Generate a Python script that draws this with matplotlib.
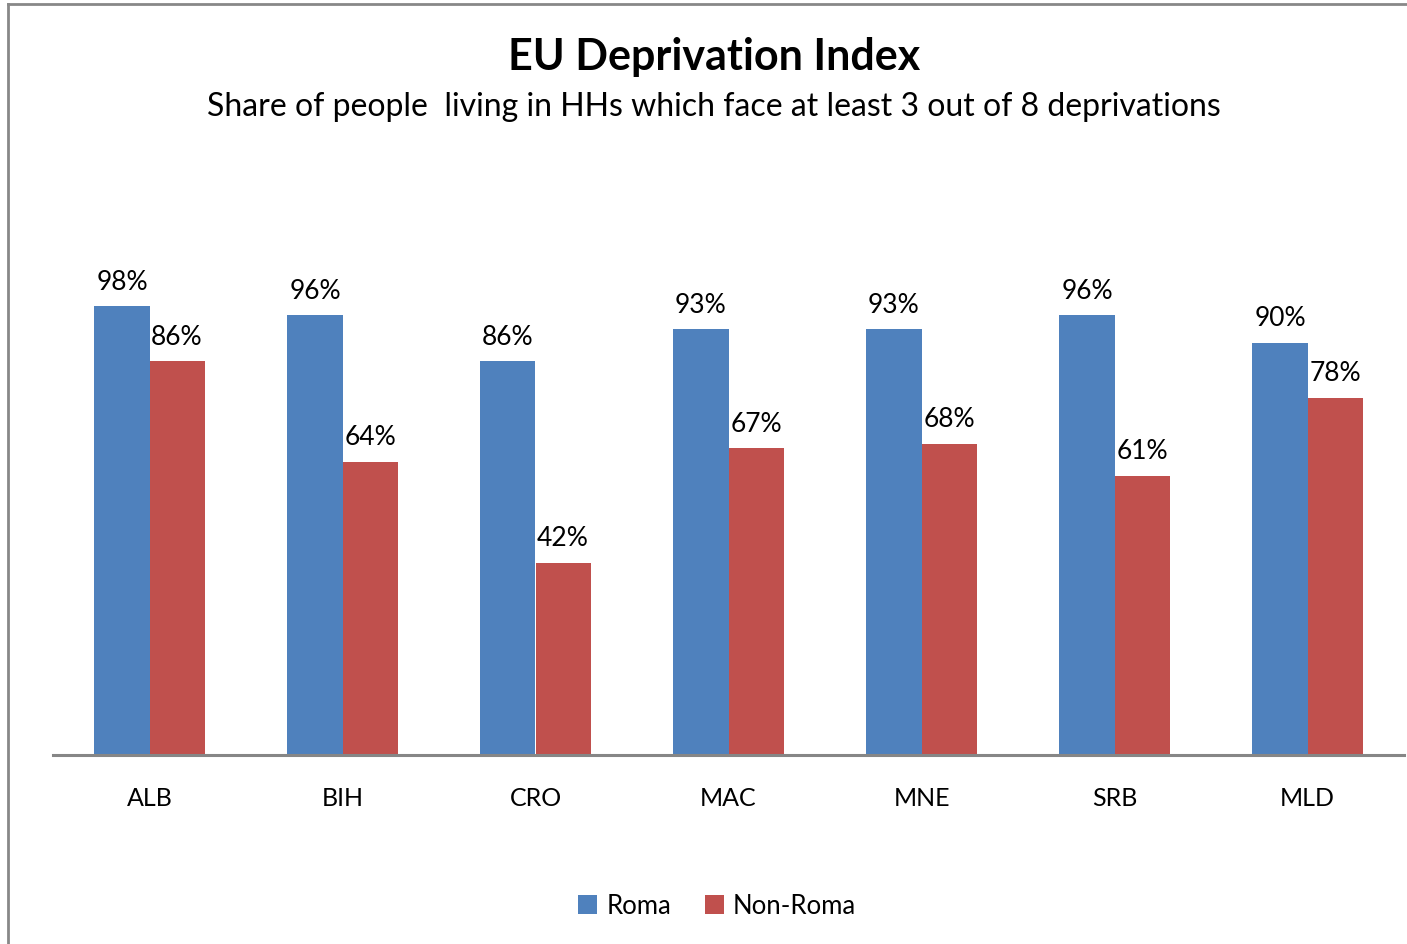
import matplotlib
matplotlib.use("Agg")
import matplotlib.pyplot as plt
from matplotlib.patches import Patch
import numpy as np

categories = ["ALB", "BIH", "CRO", "MAC", "MNE", "SRB", "MLD"]
roma = [98, 96, 86, 93, 93, 96, 90]
non_roma = [86, 64, 42, 67, 68, 61, 78]
series_names = ["Roma", "Non-Roma"]
title = "EU Deprivation Index"
subtitle = "Share of people  living in HHs which face at least 3 out of 8 deprivations"

blue = "#4F81BD"
red = "#C0504D"
font = ["Lato", "DejaVu Sans"]
plt.rcParams["font.family"] = font

fig = plt.figure(figsize=(14.07, 9.45), dpi=100)
W, H = 1407, 945
ax = fig.add_axes([53 / W, 1 - 756 / H, (1404 - 53) / W, (756 - 298) / H])

x = np.arange(len(categories))
bw = 0.285
b1 = ax.bar(x - bw / 2, roma, bw, color=blue, zorder=2)
b2 = ax.bar(x + bw / 2, non_roma, bw, color=red, zorder=2)

for bars, vals in ((b1, roma), (b2, non_roma)):
    for rect, v in zip(bars, vals):
        ax.annotate(f"{v}%", (rect.get_x() + rect.get_width() / 2, rect.get_height()),
                    xytext=(0, 18), textcoords="offset points", ha="center", va="center",
                    fontsize=19, color="black")

ax.set_xlim(-0.5, len(categories) - 0.5)
ax.set_ylim(0, 100)
ax.set_yticks([])
ax.set_xticks(x)
ax.set_xticklabels(categories, fontsize=18)
ax.tick_params(axis="x", length=0, pad=22)
for s in ("top", "right", "left"):
    ax.spines[s].set_visible(False)
ax.spines["bottom"].set_color("#868686")
ax.spines["bottom"].set_linewidth(2.2)

fig.text(714 / W, 1 - 57 / H, title, ha="center", va="center", fontsize=31, fontweight="bold")
fig.text(714 / W, 1 - 107 / H, subtitle, ha="center", va="center", fontsize=23)

handles = [Patch(facecolor=blue, label=series_names[0]), Patch(facecolor=red, label=series_names[1])]
fig.legend(handles=handles, loc="center", bbox_to_anchor=(717 / W, 1 - 907 / H), ncol=2,
           frameon=False, fontsize=18.5, handlelength=0.75, handleheight=0.75,
           handletextpad=0.35, columnspacing=1.3)

# outer border (left and top visible)
fig.add_artist(plt.Line2D([8 / W, 8 / W], [0, 1 - 5 / H], transform=fig.transFigure,
                          color="#888888", lw=2))
fig.add_artist(plt.Line2D([8 / W, 1], [1 - 5 / H, 1 - 5 / H], transform=fig.transFigure,
                          color="#888888", lw=2))

fig.savefig("out.png", dpi=100)
